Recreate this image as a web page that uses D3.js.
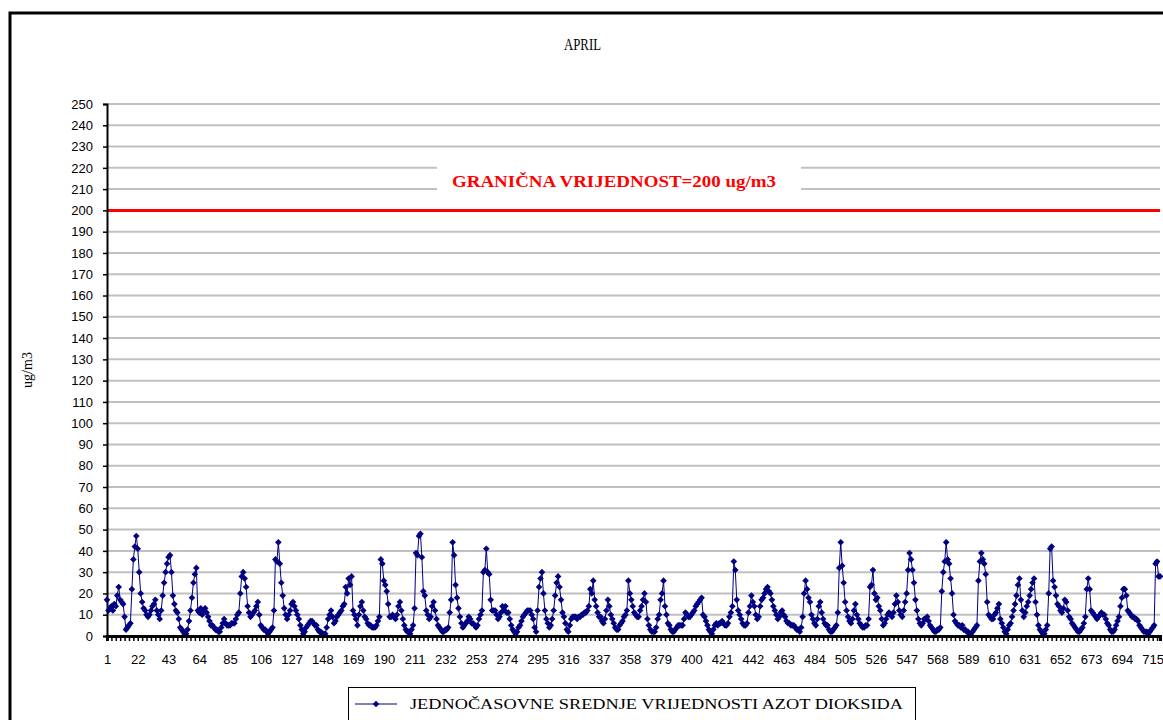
<!DOCTYPE html>
<html>
<head>
<meta charset="utf-8">
<script src="https://cdn.jsdelivr.net/npm/d3@7"></script>
<style>
  body { margin: 0; background: #fff; }
  svg { display: block; }
</style>
</head>
<body>
<svg id="chart" width="1163" height="720"></svg>
<script>
// hourly NO2 values for April, one row per day (24 h)
const day01 = [17, 12, 13, 14, 12, 15, 14, 19, 23, 17, 16, 15, 9, 3, 4, 5, 6, 22, 36, 42, 47, 41, 30, 20];
const day02 = [16, 13, 12, 10, 9, 10, 12, 14, 15, 17, 12, 10, 8, 12, 19, 25, 30, 34, 37, 38, 30, 19, 15, 12];
const day03 = [11, 8, 4, 3, 2, 1, 1, 3, 7, 12, 18, 25, 29, 32, 12, 11, 13, 10, 12, 13, 11, 9, 7, 5];
const day04 = [5, 4, 3, 3, 2, 2, 4, 6, 8, 6, 5, 5, 5, 6, 6, 6, 8, 10, 11, 20, 28, 30, 27, 23];
const day05 = [14, 11, 9, 10, 11, 12, 14, 16, 10, 5, 4, 3, 3, 2, 1, 2, 3, 4, 12, 36, 35, 44, 34, 25];
const day06 = [19, 13, 10, 8, 10, 12, 15, 16, 14, 12, 10, 8, 5, 3, 1, 2, 4, 5, 6, 7, 7, 6, 5, 5];
const day07 = [3, 2, 2, 1, 1, 1, 4, 8, 10, 12, 9, 6, 7, 9, 10, 11, 12, 14, 15, 23, 20, 27, 24, 28];
const day08 = [12, 10, 8, 5, 10, 14, 16, 12, 9, 8, 6, 5, 5, 4, 4, 4, 5, 7, 9, 36, 34, 26, 24, 21];
const day09 = [15, 9, 9, 10, 9, 8, 10, 14, 16, 12, 8, 5, 3, 2, 2, 1, 3, 5, 13, 39, 38, 47, 48, 37];
const day10 = [21, 19, 12, 10, 8, 9, 14, 16, 12, 8, 5, 4, 3, 2, 2, 3, 3, 4, 11, 17, 44, 38, 24, 18];
const day11 = [13, 9, 6, 4, 5, 6, 7, 9, 8, 6, 6, 5, 4, 5, 8, 10, 12, 30, 31, 41, 30, 29, 17, 12];
const day12 = [12, 12, 10, 8, 9, 11, 14, 12, 14, 11, 11, 8, 5, 3, 2, 1, 2, 4, 5, 7, 9, 10, 11, 12];
const day13 = [12, 12, 10, 8, 4, 2, 12, 23, 27, 30, 20, 12, 8, 6, 4, 5, 8, 12, 19, 25, 28, 23, 17, 11];
const day14 = [9, 6, 3, 2, 5, 8, 9, 9, 9, 8, 9, 9, 10, 10, 11, 11, 12, 14, 22, 20, 26, 17, 14, 11];
const day15 = [9, 9, 7, 6, 8, 12, 17, 14, 10, 8, 6, 4, 3, 3, 5, 6, 7, 9, 10, 12, 26, 20, 17, 14];
const day16 = [11, 10, 9, 9, 12, 14, 17, 20, 16, 8, 5, 3, 2, 2, 2, 4, 8, 10, 17, 20, 26, 14, 10, 6];
const day17 = [5, 3, 2, 2, 3, 4, 5, 5, 5, 5, 8, 11, 10, 9, 9, 10, 11, 12, 14, 15, 16, 17, 18, 10];
const day18 = [9, 7, 5, 3, 2, 1, 3, 5, 6, 5, 6, 6, 7, 6, 5, 5, 6, 9, 11, 14, 35, 31, 17, 12];
const day19 = [10, 8, 6, 5, 5, 6, 11, 14, 19, 16, 14, 10, 8, 9, 14, 17, 18, 20, 22, 23, 21, 20, 17, 14];
const day20 = [12, 10, 8, 9, 11, 12, 10, 9, 7, 6, 6, 5, 5, 5, 4, 3, 3, 2, 4, 9, 20, 26, 22, 18];
const day21 = [16, 10, 8, 6, 5, 8, 14, 16, 11, 8, 6, 5, 5, 3, 2, 2, 3, 4, 5, 11, 32, 44, 33, 25];
const day22 = [16, 12, 9, 7, 6, 8, 12, 15, 10, 8, 6, 5, 4, 4, 5, 5, 8, 23, 24, 31, 20, 17, 18, 14];
const day23 = [12, 8, 5, 6, 8, 10, 11, 10, 9, 11, 15, 19, 16, 12, 10, 9, 12, 16, 20, 31, 39, 36, 31, 25];
const day24 = [17, 12, 8, 6, 5, 6, 8, 8, 9, 7, 5, 4, 3, 2, 2, 3, 3, 4, 21, 30, 35, 44, 36, 34];
const day25 = [27, 20, 10, 7, 6, 5, 5, 4, 5, 3, 3, 2, 2, 1, 1, 2, 3, 4, 5, 26, 35, 39, 36, 34];
const day26 = [29, 16, 10, 9, 8, 8, 10, 11, 13, 15, 8, 6, 4, 2, 1, 3, 5, 6, 9, 12, 15, 19, 24, 27];
const day27 = [17, 12, 9, 11, 14, 16, 19, 22, 25, 27, 16, 10, 5, 3, 2, 1, 1, 3, 5, 20, 41, 42, 26, 23];
const day28 = [19, 15, 14, 12, 11, 13, 17, 16, 12, 9, 8, 6, 5, 4, 3, 2, 2, 3, 4, 6, 9, 22, 27, 22];
const day29 = [12, 11, 10, 9, 8, 9, 10, 11, 10, 10, 8, 6, 5, 3, 2, 2, 3, 5, 7, 9, 14, 18, 22, 22];
const day30 = [19, 12, 11, 10, 9, 9, 8, 8, 7, 5, 4, 3, 2, 2, 2, 1, 2, 3, 4, 5, 34, 35, 28, 28];

const no2Values = [].concat(day01, day02, day03, day04, day05, day06, day07, day08, day09, day10,
  day11, day12, day13, day14, day15, day16, day17, day18, day19, day20,
  day21, day22, day23, day24, day25, day26, day27, day28, day29, day30);

const hours = d3.range(1, no2Values.length + 1);
const xTickLabels = [1, 22, 43, 64, 85, 106, 127, 148, 169, 190, 211, 232, 253, 274, 295, 316, 337, 358, 379, 400,
  421, 442, 463, 484, 505, 526, 547, 568, 589, 610, 631, 652, 673, 694, 715];
const yTicks = [0, 10, 20, 30, 40, 50, 60, 70, 80, 90, 100, 110, 120, 130, 140, 150, 160, 170, 180, 190, 200,
  210, 220, 230, 240, 250];
const limitValue = 200;

const title = 'APRIL';
const limitLabel = 'GRANIČNA VRIJEDNOST=200 ug/m3';
const yTitle = 'ug/m3';
const seriesName = 'JEDNOČASOVNE SREDNJE VRIJEDNOSTI AZOT DIOKSIDA';

const svg = d3.select('#chart');
const plot = { left: 107, right: 1160, top: 104, bottom: 636 };
const navy = '#000080';
const serif = "'Liberation Serif', 'DejaVu Serif', 'Times New Roman', serif";
const sans = "'Liberation Sans', Arial, sans-serif";

const x = d3.scalePoint().domain(hours).range([plot.left, plot.right]);
const y = d3.scaleLinear().domain([0, 250]).range([plot.bottom, plot.top]);

// chart area frame (only top and left visible in the crop)
svg.append('path')
  .attr('d', `M10,725 L10,13 L1170,13`)
  .attr('fill', 'none')
  .attr('stroke', '#000')
  .attr('stroke-width', 3);

svg.append('text')
  .attr('x', 564).attr('y', 50)
  .attr('textLength', 37)
  .attr('lengthAdjust', 'spacingAndGlyphs')
  .style('font-family', serif)
  .style('font-size', '17px')
  .text(title);

// gridlines
svg.append('g')
  .selectAll('line')
  .data(yTicks.filter(d => d > 0))
  .join('line')
  .attr('x1', plot.left).attr('x2', plot.right)
  .attr('y1', d => y(d)).attr('y2', d => y(d))
  .attr('stroke', '#c0c0c0')
  .attr('stroke-width', 2);

// limit line
svg.append('line')
  .attr('x1', plot.left).attr('x2', plot.right)
  .attr('y1', y(limitValue)).attr('y2', y(limitValue))
  .attr('stroke', '#ff0000')
  .attr('stroke-width', 3);

// limit label on a white box
svg.append('rect')
  .attr('x', 437).attr('y', 165)
  .attr('width', 364).attr('height', 30)
  .attr('fill', '#fff');
svg.append('text')
  .attr('x', 452).attr('y', 187)
  .attr('textLength', 324)
  .attr('lengthAdjust', 'spacingAndGlyphs')
  .attr('fill', '#ff0000')
  .style('font-family', serif)
  .style('font-size', '16px')
  .style('font-weight', 'bold')
  .text(limitLabel);

// y axis
const yAxis = svg.append('g')
  .attr('transform', `translate(${plot.left},0)`)
  .call(d3.axisLeft(y).tickValues(yTicks).tickSize(4).tickPadding(10));
yAxis.select('.domain').attr('stroke-width', 2);
yAxis.selectAll('.tick line').attr('stroke-width', 1.5);
yAxis.selectAll('text').style('font-family', sans).style('font-size', '13px').attr('fill', '#000');

svg.append('text')
  .attr('transform', `translate(32,370) rotate(-90)`)
  .attr('text-anchor', 'middle')
  .style('font-family', serif)
  .style('font-size', '14px')
  .text(yTitle);

// series
svg.append('path')
  .datum(no2Values)
  .attr('fill', 'none')
  .attr('stroke', navy)
  .attr('stroke-width', 1)
  .attr('d', d3.line().x((d, i) => x(hours[i])).y(d => y(d)));

const diamond = d3.symbol(d3.symbolSquare, 22);
svg.append('g')
  .selectAll('path')
  .data(no2Values)
  .join('path')
  .attr('transform', (d, i) => `translate(${x(hours[i])},${y(d)}) rotate(45)`)
  .attr('d', diamond)
  .attr('fill', navy);

// x axis
const labelSet = new Set(xTickLabels);
const xAxis = svg.append('g')
  .attr('transform', `translate(0,${plot.bottom})`)
  .call(d3.axisBottom(x)
    .tickValues(hours.filter(h => (h - 1) % 3 === 0))
    .tickFormat(d => labelSet.has(d) ? d : '')
    .tickSize(5)
    .tickPadding(14));
xAxis.select('.domain').attr('stroke-width', 3);
xAxis.selectAll('.tick line').attr('stroke-width', 1.5);
xAxis.selectAll('text').style('font-family', sans).style('font-size', '13px').attr('fill', '#000');

// legend
const legend = svg.append('g');
legend.append('rect')
  .attr('x', 348.5).attr('y', 687.5)
  .attr('width', 567).attr('height', 40)
  .attr('fill', '#fff')
  .attr('stroke', '#000');
legend.append('line')
  .attr('x1', 355).attr('x2', 397)
  .attr('y1', 704).attr('y2', 704)
  .attr('stroke', navy);
legend.append('path')
  .attr('transform', 'translate(376,704) rotate(45)')
  .attr('d', diamond)
  .attr('fill', navy);
legend.append('text')
  .attr('x', 410).attr('y', 709)
  .attr('textLength', 493)
  .attr('lengthAdjust', 'spacingAndGlyphs')
  .style('font-family', serif)
  .style('font-size', '14px')
  .text(seriesName);
</script>
</body>
</html>
